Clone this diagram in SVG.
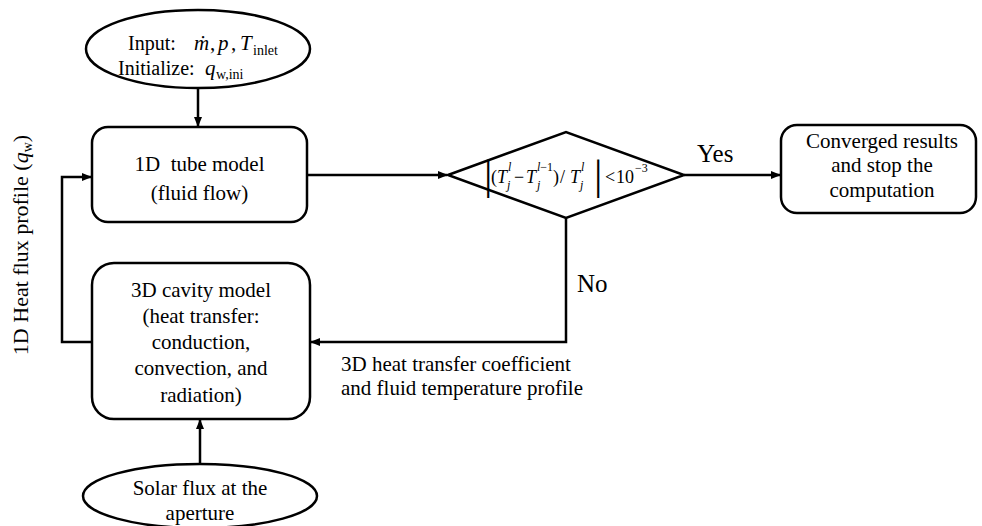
<svg xmlns="http://www.w3.org/2000/svg" width="982" height="526" viewBox="0 0 982 526">
<style>
.shape{fill:#fff;stroke:#000;stroke-width:2.5}
.conn{fill:none;stroke:#000;stroke-width:2.5}
text{font-family:"Liberation Serif","Times New Roman",serif;fill:#000}
.t{font-size:21px;text-anchor:middle}
.it{font-style:italic}
.f{font-size:18px}
.s{font-size:12px}
</style>
<defs>
<marker id="ah" markerWidth="10" markerHeight="8" refX="9" refY="4" orient="auto" markerUnits="userSpaceOnUse">
<path d="M0,0 L10,4 L0,8 Z" fill="#000"/>
</marker>
</defs>
<rect width="982" height="526" fill="#fff"/>

<g id="connectors">
<path class="conn" d="M198,88 V126" marker-end="url(#ah)"/>
<path class="conn" d="M307,175 H447" marker-end="url(#ah)"/>
<path class="conn" d="M684,175 H780" marker-end="url(#ah)"/>
<path class="conn" d="M566,218 V342 H311" marker-end="url(#ah)"/>
<path class="conn" d="M92,342 H62 V177 H91" marker-end="url(#ah)"/>
<path class="conn" d="M200,464 V420" marker-end="url(#ah)"/>
<text x="697" y="162" style="font-size:25px">Yes</text>
<text x="577" y="292" style="font-size:25px">No</text>
<text x="341" y="371" style="font-size:21px">3D heat transfer coefficient</text>
<text x="341" y="395" style="font-size:21px">and fluid temperature profile</text>
<text transform="translate(28,245) rotate(-90)" style="font-size:22px;text-anchor:middle">1D Heat flux profile (<tspan class="it">q</tspan><tspan style="font-size:14px" dy="4">w</tspan><tspan dy="-4">)</tspan></text>
</g>

<g id="input">
<ellipse class="shape" cx="198" cy="49" rx="112" ry="39"/>
<text x="128" y="50" style="font-size:20px">Input:</text>
<text x="194" y="50" style="font-size:21px" class="it">ṁ</text>
<text x="210" y="50" style="font-size:21px">,</text>
<text x="218" y="50" style="font-size:21px" class="it">p</text>
<text x="231" y="50" style="font-size:21px">,</text>
<text x="240" y="50" style="font-size:21px" class="it">T</text>
<text x="253" y="55" style="font-size:14px">inlet</text>
<text x="118" y="75" style="font-size:20px">Initialize:</text>
<text x="205" y="75" style="font-size:21px" class="it">q</text>
<text x="216" y="79" style="font-size:14px">w,ini</text>
</g>

<g id="tube">
<rect class="shape" x="92" y="127" width="215" height="95" rx="16"/>
<text class="t" x="199.5" y="171" xml:space="preserve">1D  tube model</text>
<text class="t" x="199.5" y="200">(fluid flow)</text>
</g>

<g id="decision">
<polygon class="shape" points="448,175 566,132 684,175 566,218"/>
<text x="484" y="189" style="font-size:42px">|</text>
<text x="491" y="183" class="f">(</text>
<text x="497" y="183" class="f it">T</text>
<text x="508" y="171" class="s it">l</text>
<text x="507" y="189" class="s it">j</text>
<text x="514" y="183" class="f">−</text>
<text x="526" y="183" class="f it">T</text>
<text x="537" y="171" class="s"><tspan class="it">l</tspan>−1</text>
<text x="537" y="189" class="s it">j</text>
<text x="553" y="183" class="f">)</text>
<text x="560" y="183" class="f">/</text>
<text x="570" y="183" class="f it">T</text>
<text x="581" y="171" class="s it">l</text>
<text x="580" y="189" class="s it">j</text>
<text x="594" y="189" style="font-size:42px">|</text>
<text x="605" y="183" class="f">&lt;</text>
<text x="616" y="183" class="f">10</text>
<text x="635" y="172" class="s">−3</text>
</g>

<g id="converged">
<rect class="shape" x="781" y="125" width="195" height="88" rx="16"/>
<text class="t" x="882" y="148">Converged results</text>
<text class="t" x="882" y="172">and stop the</text>
<text class="t" x="882" y="197">computation</text>
</g>

<g id="cavity">
<rect class="shape" x="92" y="263" width="218" height="156" rx="22"/>
<text class="t" x="201" y="297">3D cavity model</text>
<text class="t" x="201" y="323">(heat transfer:</text>
<text class="t" x="201" y="349">conduction,</text>
<text class="t" x="201" y="375">convection, and</text>
<text class="t" x="201" y="402">radiation)</text>
</g>

<g id="solar">
<ellipse class="shape" cx="200" cy="496" rx="117" ry="32"/>
<text class="t" x="200" y="495">Solar flux at the</text>
<text class="t" x="200" y="520">aperture</text>
</g>
</svg>
